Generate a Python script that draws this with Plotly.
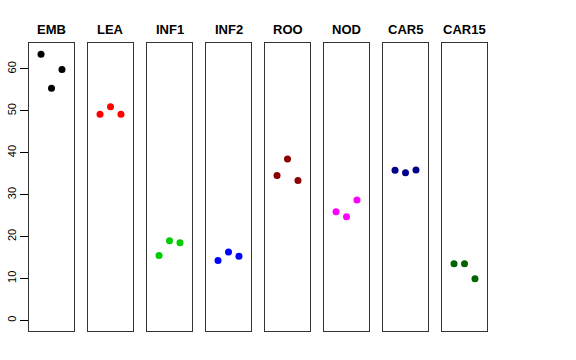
import plotly.graph_objects as go

groups = ["EMB", "LEA", "INF1", "INF2", "ROO", "NOD", "CAR5", "CAR15"]
colors = ["#000000", "#FF0000", "#00CD00", "#0000FF", "#8B0000", "#FF00FF", "#00008B", "#006400"]
reps = [1, 2, 3]
EMB = [63.5, 55.4, 59.9]
LEA = [49.2, 51.0, 49.2]
INF1 = [15.5, 19.0, 18.5]
INF2 = [14.3, 16.3, 15.3]
ROO = [34.6, 38.5, 33.4]
NOD = [25.9, 24.7, 28.7]
CAR5 = [35.8, 35.2, 35.9]
CAR15 = [13.5, 13.5, 9.9]
values = [EMB, LEA, INF1, INF2, ROO, NOD, CAR5, CAR15]
y_ticks = [0, 10, 20, 30, 40, 50, 60]

W, H = 576, 360
left0, pitch, pw = 29.0, 59.0, 45.0
top_px, bot_px = 43.0, 331.0
ydom = [1 - bot_px / H, 1 - top_px / H]

fig = go.Figure()
layout = {}
annotations = []
for i, (g, c, v) in enumerate(zip(groups, colors, values)):
    n = "" if i == 0 else str(i + 1)
    x0 = left0 + i * pitch
    dom = [x0 / W, (x0 + pw) / W]
    fig.add_trace(go.Scatter(x=reps, y=v, mode="markers",
                             marker=dict(color=c, size=7),
                             xaxis="x" + n, yaxis="y" + n, showlegend=False))
    layout["xaxis" + n] = dict(domain=dom, range=[-0.15, 4.15], showgrid=False,
                               zeroline=False, showticklabels=False, ticks="",
                               showline=True, mirror=True, linecolor="#333333",
                               linewidth=1, anchor="y" + n, fixedrange=True,
                               automargin=False)
    ya = dict(domain=ydom, range=[-2.55, 66.2], showgrid=False, zeroline=False,
              showline=True, mirror=True, linecolor="#333333", linewidth=1,
              anchor="x" + n, automargin=False)
    if i == 0:
        ya.update(tickvals=y_ticks, ticks="outside", ticklen=8, tickcolor="black",
                  tickangle=-90, tickfont=dict(family="Liberation Sans, Arial", size=11, color="black"))
    else:
        ya.update(showticklabels=False, ticks="")
    layout["yaxis" + n] = ya
    annotations.append(dict(text="<b>" + g + "</b>", x=(x0 + pw / 2) / W, y=1 - 29 / H,
                            xref="paper", yref="paper", showarrow=False,
                            font=dict(family="Liberation Sans, Arial", size=13, color="black"),
                            xanchor="center", yanchor="middle"))

fig.update_layout(**layout)
fig.update_layout(width=W, height=H, margin=dict(l=0, r=0, t=0, b=0, autoexpand=False),
                  paper_bgcolor="white", plot_bgcolor="white",
                  annotations=annotations)
fig.write_html("out.html", config={"displayModeBar": False},
               post_script="document.body.style.margin='0px';document.body.style.overflow='hidden';")
